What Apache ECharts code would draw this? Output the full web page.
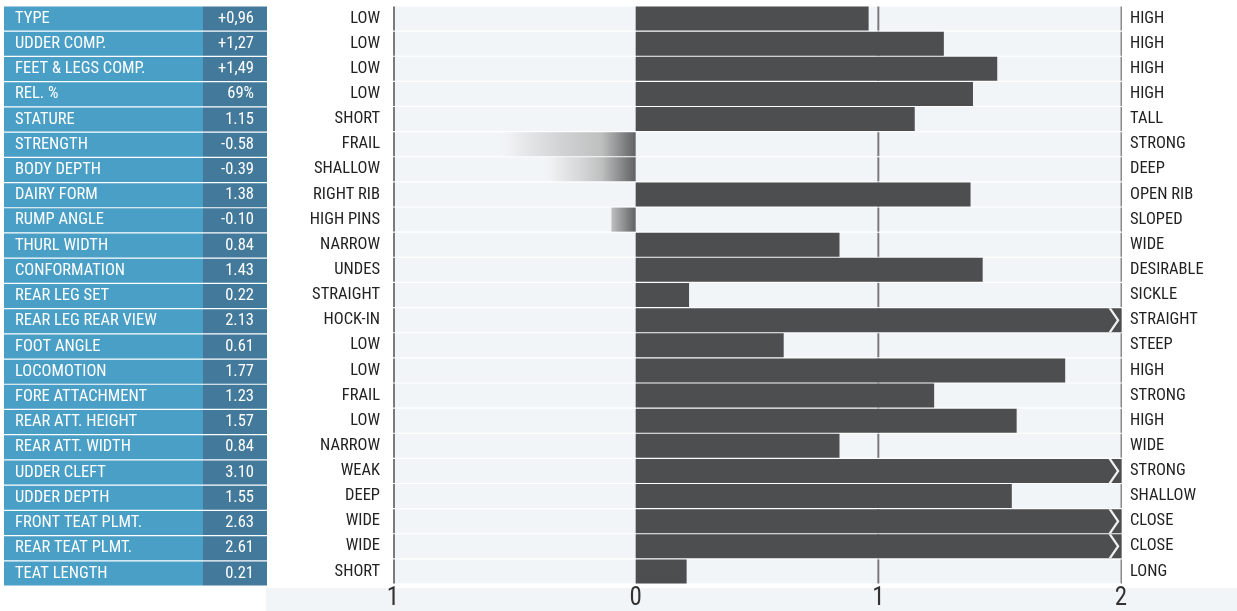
<!DOCTYPE html>
<html>
<head>
<meta charset="utf-8">
<script src="https://cdn.jsdelivr.net/npm/echarts@6/dist/echarts.min.js"></script>
<style>
html,body{margin:0;padding:0;background:#fff;}
#c{width:1237px;height:611px;}
</style>
</head>
<body>
<div id="c"></div>
<script>
const traits = ["TYPE","UDDER COMP.","FEET & LEGS COMP.","REL. %","STATURE","STRENGTH","BODY DEPTH","DAIRY FORM","RUMP ANGLE","THURL WIDTH","CONFORMATION","REAR LEG SET","REAR LEG REAR VIEW","FOOT ANGLE","LOCOMOTION","FORE ATTACHMENT","REAR ATT. HEIGHT","REAR ATT. WIDTH","UDDER CLEFT","UDDER DEPTH","FRONT TEAT PLMT.","REAR TEAT PLMT.","TEAT LENGTH"];
const valueLabels = ["+0,96","+1,27","+1,49","69%","1.15","-0.58","-0.39","1.38","-0.10","0.84","1.43","0.22","2.13","0.61","1.77","1.23","1.57","0.84","3.10","1.55","2.63","2.61","0.21"];
const barValues = [0.96,1.27,1.49,1.39,1.15,-0.58,-0.39,1.38,-0.10,0.84,1.43,0.22,2.13,0.61,1.77,1.23,1.57,0.84,3.10,1.55,2.63,2.61,0.21];
const lowLabels = ["LOW","LOW","LOW","LOW","SHORT","FRAIL","SHALLOW","RIGHT RIB","HIGH PINS","NARROW","UNDES","STRAIGHT","HOCK-IN","LOW","LOW","FRAIL","LOW","NARROW","WEAK","DEEP","WIDE","WIDE","SHORT"];
const highLabels = ["HIGH","HIGH","HIGH","HIGH","TALL","STRONG","DEEP","OPEN RIB","SLOPED","WIDE","DESIRABLE","SICKLE","STRAIGHT","STEEP","HIGH","STRONG","HIGH","WIDE","STRONG","SHALLOW","CLOSE","CLOSE","LONG"];
const axisMin = -1, axisMax = 2;
const tickLabels = ["1","0","1","2"];

const FONT = "'Roboto Condensed','Liberation Sans Narrow','DejaVu Sans Condensed',Roboto,sans-serif";
const chart = echarts.init(document.getElementById('c'), null, {renderer:'canvas'});

function negColor(v){
  const a = Math.abs(v);
  const s = Math.max(0, 1 - 0.14 / a);
  const stops = [{offset:0,color:'rgba(242,245,247,0)'}];
  if (s > 0.4) {
    stops.push({offset:0.18,color:'rgba(232,234,235,1)'});
    stops.push({offset:0.45,color:'rgba(210,212,213,1)'});
  }
  stops.push({offset:s,color:'rgba(190,192,192,1)'});
  stops.push({offset:1,color:'rgba(95,97,99,1)'});
  return new echarts.graphic.LinearGradient(0,0,1,0,stops);
}

const option = {
  animation:false,
  textStyle:{fontFamily:FONT},
  graphic:[{type:'rect',z:0,shape:{x:266,y:588,width:971,height:23},style:{fill:'#f2f5f7'}}],
  grid:[
    {left:393,right:116,top:6,height:580,containLabel:false},
    {left:4,width:263,top:6,height:580,containLabel:false}
  ],
  xAxis:[
    {gridIndex:0,type:'value',min:axisMin,max:axisMax,interval:1,
     axisLine:{show:false},axisTick:{show:false},splitLine:{show:false},
     axisLabel:{formatter:(v)=>tickLabels[Math.round(v-axisMin)],fontSize:25,color:'#333',margin:2,fontFamily:FONT}},
    {gridIndex:1,type:'value',min:0,max:263,show:false}
  ],
  yAxis:[
    {gridIndex:0,type:'category',inverse:true,data:traits,position:'left',
     axisLine:{show:false},axisTick:{show:false},
     axisLabel:{formatter:(v,i)=>lowLabels[i],fontSize:16.5,color:'#222',margin:13,fontFamily:FONT}},
    {gridIndex:0,type:'category',inverse:true,data:traits,position:'right',
     axisLine:{show:false},axisTick:{show:false},
     axisLabel:{formatter:(v,i)=>highLabels[i],fontSize:16.5,color:'#222',margin:9,fontFamily:FONT}},
    {gridIndex:1,type:'category',inverse:true,data:traits,show:false}
  ],
  series:[
    {
      type:'custom',xAxisIndex:0,yAxisIndex:0,z:1,
      data:traits.map((t,i)=>[0,i]),
      encode:{x:0,y:1},
      renderItem:function(params,api){
        const i = api.value(1);
        const pL = api.coord([axisMin,i]);
        const pR = api.coord([axisMax,i]);
        const pM = api.coord([1,i]);
        const h = 24;
        const y0 = pL[1]-h/2;
        return {type:'group',children:[
          {type:'rect',shape:{x:pL[0],y:y0,width:pR[0]-pL[0],height:h},style:{fill:'#f2f5f7'}},
          {type:'rect',shape:{x:pL[0],y:y0,width:2,height:h},style:{fill:'#7b7b7d'}},
          {type:'rect',shape:{x:pM[0]-1,y:y0,width:2,height:h},style:{fill:'#7b7b7d'}},
          {type:'rect',shape:{x:pR[0]-0.5,y:y0,width:1.5,height:h},style:{fill:'#8a8a8c'}}
        ]};
      }
    },
    {
      type:'bar',xAxisIndex:0,yAxisIndex:0,z:3,barWidth:24,
      data:barValues.map(v=>v<0?{value:v,itemStyle:{color:negColor(v)}}:{value:v}),
      itemStyle:{color:'#4d4e50'}
    },
    {
      type:'scatter',xAxisIndex:0,yAxisIndex:0,z:5,
      symbol:'path://M0,0 L3,0 L12,12 L3,24 L0,24 L9,12 Z',
      symbolSize:[11,24],symbolOffset:[-7,0],
      itemStyle:{color:'#f0f0f0',opacity:1},
      data:barValues.map((v,i)=>v>axisMax?[axisMax,i]:null).filter(d=>d)
    },
    {
      type:'bar',xAxisIndex:1,yAxisIndex:2,stack:'tbl',barWidth:24,
      data:traits.map(()=>199),
      itemStyle:{color:'#4a9fc6'},
      label:{show:true,position:'insideLeft',distance:11,color:'#fff',fontSize:16.5,fontFamily:FONT,
             formatter:(p)=>traits[p.dataIndex]}
    },
    {
      type:'bar',xAxisIndex:1,yAxisIndex:2,stack:'tbl',barWidth:24,
      data:traits.map(()=>64),
      itemStyle:{color:'#437a9b'},
      label:{show:true,position:'insideRight',distance:13,color:'#fff',fontSize:16.5,fontFamily:FONT,
             formatter:(p)=>valueLabels[p.dataIndex]}
    }
  ]
};
chart.setOption(option);
</script>
</body>
</html>
